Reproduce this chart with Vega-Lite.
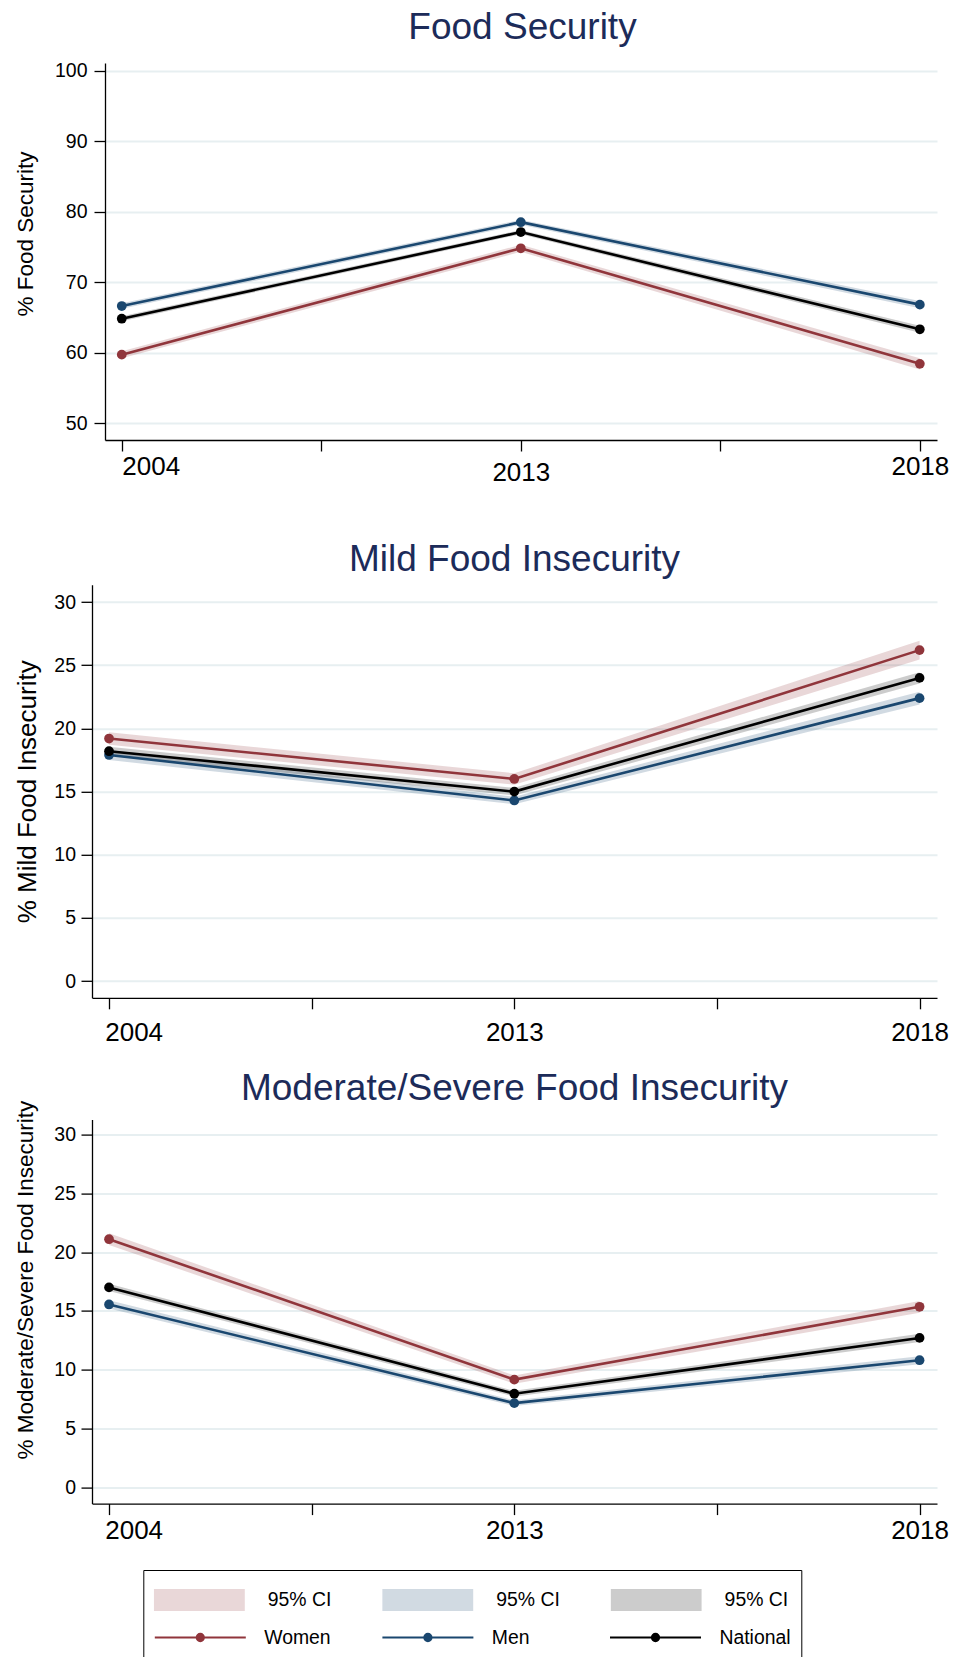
{
  "$schema": "https://vega.github.io/schema/vega-lite/v6.json",
  "padding": {"left": 14, "top": 9, "right": 4, "bottom": 4},
  "background": "white",
  "spacing": 23.8,
  "datasets": {
    "d": [
      {"p": 1, "x": 1, "g": "Women", "ci": "ciW", "v": 59.7, "lo": 59.2, "hi": 60.2},
      {"p": 1, "x": 2, "g": "Women", "ci": "ciW", "v": 74.8, "lo": 74.3, "hi": 75.3},
      {"p": 1, "x": 3, "g": "Women", "ci": "ciW", "v": 58.4, "lo": 57.6, "hi": 59.2},
      {"p": 1, "x": 1, "g": "Men", "ci": "ciM", "v": 66.6, "lo": 66.2, "hi": 67.0},
      {"p": 1, "x": 2, "g": "Men", "ci": "ciM", "v": 78.5, "lo": 78.15, "hi": 78.85},
      {"p": 1, "x": 3, "g": "Men", "ci": "ciM", "v": 66.8, "lo": 66.3, "hi": 67.3},
      {"p": 1, "x": 1, "g": "National", "ci": "ciN", "v": 64.8, "lo": 64.45, "hi": 65.15},
      {"p": 1, "x": 2, "g": "National", "ci": "ciN", "v": 77.1, "lo": 76.8, "hi": 77.4},
      {"p": 1, "x": 3, "g": "National", "ci": "ciN", "v": 63.3, "lo": 62.8, "hi": 63.8},
      {"p": 2, "x": 1, "g": "Women", "ci": "ciW", "v": 19.2, "lo": 18.7, "hi": 19.7},
      {"p": 2, "x": 2, "g": "Women", "ci": "ciW", "v": 16.0, "lo": 15.55, "hi": 16.45},
      {"p": 2, "x": 3, "g": "Women", "ci": "ciW", "v": 26.2, "lo": 25.45, "hi": 26.95},
      {"p": 2, "x": 1, "g": "Men", "ci": "ciM", "v": 17.9, "lo": 17.5, "hi": 18.3},
      {"p": 2, "x": 2, "g": "Men", "ci": "ciM", "v": 14.3, "lo": 14.0, "hi": 14.6},
      {"p": 2, "x": 3, "g": "Men", "ci": "ciM", "v": 22.4, "lo": 21.9, "hi": 22.9},
      {"p": 2, "x": 1, "g": "National", "ci": "ciN", "v": 18.2, "lo": 17.85, "hi": 18.55},
      {"p": 2, "x": 2, "g": "National", "ci": "ciN", "v": 15.0, "lo": 14.7, "hi": 15.3},
      {"p": 2, "x": 3, "g": "National", "ci": "ciN", "v": 24.0, "lo": 23.55, "hi": 24.45},
      {"p": 3, "x": 1, "g": "Women", "ci": "ciW", "v": 21.1, "lo": 20.6, "hi": 21.6},
      {"p": 3, "x": 2, "g": "Women", "ci": "ciW", "v": 9.15, "lo": 8.8, "hi": 9.5},
      {"p": 3, "x": 3, "g": "Women", "ci": "ciW", "v": 15.35, "lo": 14.85, "hi": 15.85},
      {"p": 3, "x": 1, "g": "Men", "ci": "ciM", "v": 15.55, "lo": 15.2, "hi": 15.9},
      {"p": 3, "x": 2, "g": "Men", "ci": "ciM", "v": 7.15, "lo": 6.9, "hi": 7.4},
      {"p": 3, "x": 3, "g": "Men", "ci": "ciM", "v": 10.8, "lo": 10.45, "hi": 11.15},
      {"p": 3, "x": 1, "g": "National", "ci": "ciN", "v": 17.0, "lo": 16.7, "hi": 17.3},
      {"p": 3, "x": 2, "g": "National", "ci": "ciN", "v": 7.95, "lo": 7.7, "hi": 8.2},
      {"p": 3, "x": 3, "g": "National", "ci": "ciN", "v": 12.7, "lo": 12.35, "hi": 13.05}
    ]
  },
  "vconcat": [
    {
      "title": {"text": "Food Security", "offset": 13.2, "dx": 8},
      "width": 845,
      "height": 377,
      "data": {"name": "d"},
      "transform": [{"filter": "datum.p == 1"}],
      "encoding": {
        "x": {
          "field": "x", "type": "quantitative",
          "scale": {"domain": [0.958, 3.043], "range": [13, 845], "nice": false, "zero": false},
          "axis": {
            "title": null,
            "values": [1, 1.5, 2, 2.5, 3],
            "labelExpr": "datum.value == 1 ? '2004' : datum.value == 2 ? '2013' : datum.value == 3 ? '2018' : ''",
            "labelAlign": {"condition": {"test": "datum.value == 1", "value": "left"}, "value": "center"},
            "labelPadding": {"condition": {"test": "datum.value == 2", "value": 8.9}, "value": 2.2},
            "minExtent": 76.3
          }
        }
      },
      "layer": [
        {
          "mark": {"type": "area", "opacity": 0.2},
          "encoding": {
            "y": {"field": "lo", "type": "quantitative", "scale": {"domain": [47.59, 101.09], "nice": false, "zero": false},
                  "axis": {"title": "% Food Security", "values": [50, 60, 70, 80, 90, 100], "labelPadding": 7, "titlePadding": 17, "titleY": 170.5, "offset": -13}},
            "y2": {"field": "hi"},
            "fill": {
              "field": "ci", "type": "nominal",
              "scale": {"domain": ["ciW", "ciM", "ciN"], "range": ["#90353b", "#1a476f", "#000000"]},
              "legend": {
                "title": null,
                "orient": "none",
                "legendX": 61.8,
                "legendY": 1522,
                "direction": "horizontal",
                "columns": 3,
                "gridAlign": "all",
                "symbolType": "M-1,-0.24H1V0.24H-1Z",
                "symbolSize": 8281,
                "symbolOpacity": 0.2,
                "symbolStrokeWidth": 0,
                "clipHeight": 30,
                "columnPadding": 50.4,
                "labelOffset": 23,
                "labelFont": "Liberation Sans",
                "labelFontSize": 19.4,
                "labelColor": "black",
                "padding": 0,
                "labelExpr": "'95% CI'"
              }
            }
          }
        },
        {
          "mark": {"type": "line", "strokeWidth": 2.6},
          "encoding": {
            "y": {"field": "v", "type": "quantitative", "scale": {"domain": [47.59, 101.09], "nice": false, "zero": false},
                  "axis": {"title": "% Food Security", "values": [50, 60, 70, 80, 90, 100], "labelPadding": 7, "titlePadding": 17, "titleY": 170.5, "offset": -13}},
            "stroke": {
              "field": "g", "type": "nominal",
              "scale": {"domain": ["Women", "Men", "National"], "range": ["#90353b", "#1a476f", "#000000"]},
              "legend": {
                "title": " ",
                "titleFontSize": 20,
                "titlePadding": 22,
                "orient": "none",
                "legendX": 51.3,
                "legendY": 1507,
                "direction": "horizontal",
                "columns": 3,
                "gridAlign": "all",
                "symbolType": "M-1,0H1M-0.08,0A0.08,0.08 0 1,1 0.08,0A0.08,0.08 0 1,1 -0.08,0M-0.04,0A0.04,0.04 0 1,1 0.04,0A0.04,0.04 0 1,1 -0.04,0",
                "symbolSize": 8281,
                "symbolStrokeWidth": 2,
                "symbolOpacity": 1,
                "symbolFillColor": "transparent",
                "clipHeight": 30,
                "columnPadding": 45.6,
                "labelOffset": 17.4,
                "labelFont": "Liberation Sans",
                "labelFontSize": 19.4,
                "labelColor": "black",
                "strokeColor": "black",
                "padding": 10.5
              }
            }
          }
        },
        {
          "mark": {"type": "point", "filled": true, "size": 95, "opacity": 1},
          "encoding": {
            "y": {"field": "v", "type": "quantitative", "scale": {"domain": [47.59, 101.09], "nice": false, "zero": false},
                  "axis": {"title": "% Food Security", "values": [50, 60, 70, 80, 90, 100], "labelPadding": 7, "titlePadding": 17, "titleY": 170.5, "offset": -13}},
            "color": {"field": "g", "type": "nominal", "scale": {"domain": ["Women", "Men", "National"], "range": ["#90353b", "#1a476f", "#000000"]}, "legend": null}
          }
        }
      ]
    },
    {
      "title": {"text": "Mild Food Insecurity", "offset": 5.7},
      "width": 845,
      "height": 413,
      "data": {"name": "d"},
      "transform": [{"filter": "datum.p == 2"}],
      "encoding": {
        "x": {
          "field": "x", "type": "quantitative",
          "scale": {"domain": [0.958, 3.043], "nice": false, "zero": false},
          "axis": {
            "title": null,
            "values": [1, 1.5, 2, 2.5, 3],
            "labelExpr": "datum.value == 1 ? '2004' : datum.value == 2 ? '2013' : datum.value == 3 ? '2018' : ''",
            "labelAlign": {"condition": {"test": "datum.value == 1", "value": "left"}, "value": "center"},
            "labelOffset": {"condition": {"test": "datum.value == 1", "value": -4.3}, "value": 0},
            "labelPadding": 10.2
          }
        }
      },
      "layer": [
        {
          "mark": {"type": "area", "opacity": 0.2},
          "encoding": {
            "y": {"field": "lo", "type": "quantitative", "scale": {"domain": [-1.32, 31.37], "nice": false, "zero": false},
                  "axis": {"title": "% Mild Food Insecurity", "values": [0, 5, 10, 15, 20, 25, 30], "labelPadding": 5.5, "titlePadding": 13, "titleFontSize": 26}},
            "y2": {"field": "hi"},
            "fill": {"field": "ci", "type": "nominal", "scale": {"domain": ["ciW", "ciM", "ciN"], "range": ["#90353b", "#1a476f", "#000000"]}}
          }
        },
        {
          "mark": {"type": "line", "strokeWidth": 2.6},
          "encoding": {
            "y": {"field": "v", "type": "quantitative", "scale": {"domain": [-1.32, 31.37], "nice": false, "zero": false},
                  "axis": {"title": "% Mild Food Insecurity", "values": [0, 5, 10, 15, 20, 25, 30], "labelPadding": 5.5, "titlePadding": 13, "titleFontSize": 26}},
            "stroke": {"field": "g", "type": "nominal", "scale": {"domain": ["Women", "Men", "National"], "range": ["#90353b", "#1a476f", "#000000"]}}
          }
        },
        {
          "mark": {"type": "point", "filled": true, "size": 95, "opacity": 1},
          "encoding": {
            "y": {"field": "v", "type": "quantitative", "scale": {"domain": [-1.32, 31.37], "nice": false, "zero": false},
                  "axis": {"title": "% Mild Food Insecurity", "values": [0, 5, 10, 15, 20, 25, 30], "labelPadding": 5.5, "titlePadding": 13, "titleFontSize": 26}},
            "color": {"field": "g", "type": "nominal", "scale": {"domain": ["Women", "Men", "National"], "range": ["#90353b", "#1a476f", "#000000"]}, "legend": null}
          }
        }
      ]
    },
    {
      "title": {"text": "Moderate/Severe Food Insecurity", "offset": -8},
      "width": 845,
      "height": 384,
      "data": {"name": "d"},
      "transform": [{"filter": "datum.p == 3"}],
      "encoding": {
        "x": {
          "field": "x", "type": "quantitative",
          "scale": {"domain": [0.958, 3.043], "nice": false, "zero": false},
          "axis": {
            "title": null,
            "values": [1, 1.5, 2, 2.5, 3],
            "labelExpr": "datum.value == 1 ? '2004' : datum.value == 2 ? '2013' : datum.value == 3 ? '2018' : ''",
            "labelAlign": {"condition": {"test": "datum.value == 1", "value": "left"}, "value": "center"},
            "labelOffset": {"condition": {"test": "datum.value == 1", "value": -4.3}, "value": 0},
            "labelPadding": 3.2
          }
        }
      },
      "layer": [
        {
          "mark": {"type": "area", "opacity": 0.2},
          "encoding": {
            "y": {"field": "lo", "type": "quantitative", "scale": {"domain": [-1.4, 31.28], "nice": false, "zero": false},
                  "axis": {"title": "% Moderate/Severe Food Insecurity", "values": [0, 5, 10, 15, 20, 25, 30], "labelPadding": 5.5, "titlePadding": 16.5, "titleY": 160}},
            "y2": {"field": "hi"},
            "fill": {"field": "ci", "type": "nominal", "scale": {"domain": ["ciW", "ciM", "ciN"], "range": ["#90353b", "#1a476f", "#000000"]}}
          }
        },
        {
          "mark": {"type": "line", "strokeWidth": 2.6},
          "encoding": {
            "y": {"field": "v", "type": "quantitative", "scale": {"domain": [-1.4, 31.28], "nice": false, "zero": false},
                  "axis": {"title": "% Moderate/Severe Food Insecurity", "values": [0, 5, 10, 15, 20, 25, 30], "labelPadding": 5.5, "titlePadding": 16.5, "titleY": 160}},
            "stroke": {"field": "g", "type": "nominal", "scale": {"domain": ["Women", "Men", "National"], "range": ["#90353b", "#1a476f", "#000000"]}}
          }
        },
        {
          "mark": {"type": "point", "filled": true, "size": 95, "opacity": 1},
          "encoding": {
            "y": {"field": "v", "type": "quantitative", "scale": {"domain": [-1.4, 31.28], "nice": false, "zero": false},
                  "axis": {"title": "% Moderate/Severe Food Insecurity", "values": [0, 5, 10, 15, 20, 25, 30], "labelPadding": 5.5, "titlePadding": 16.5, "titleY": 160}},
            "color": {"field": "g", "type": "nominal", "scale": {"domain": ["Women", "Men", "National"], "range": ["#90353b", "#1a476f", "#000000"]}, "legend": null}
          }
        }
      ]
    }
  ],
  "config": {
    "view": {"stroke": null},
    "font": "Liberation Sans",
    "title": {"fontSize": 37, "font": "Liberation Sans", "fontWeight": "normal", "color": "#1c2b59", "anchor": "middle", "frame": "group", "baseline": "bottom"},
    "axis": {"domainColor": "black", "tickColor": "black", "domainWidth": 1.3, "tickWidth": 1.3, "tickSize": 11, "labelColor": "black", "titleColor": "black", "labelFont": "Liberation Sans", "titleFont": "Liberation Sans", "titleFontWeight": "normal"},
    "axisY": {"labelFontSize": 19.5, "titleFontSize": 22.5, "grid": true, "gridColor": "#e7eff1", "gridWidth": 2, "labelBaseline": "middle"},
    "axisX": {"labelFontSize": 26, "labelBaseline": "top", "grid": false, "labelFlush": false, "labelOverlap": false}
  }
}
